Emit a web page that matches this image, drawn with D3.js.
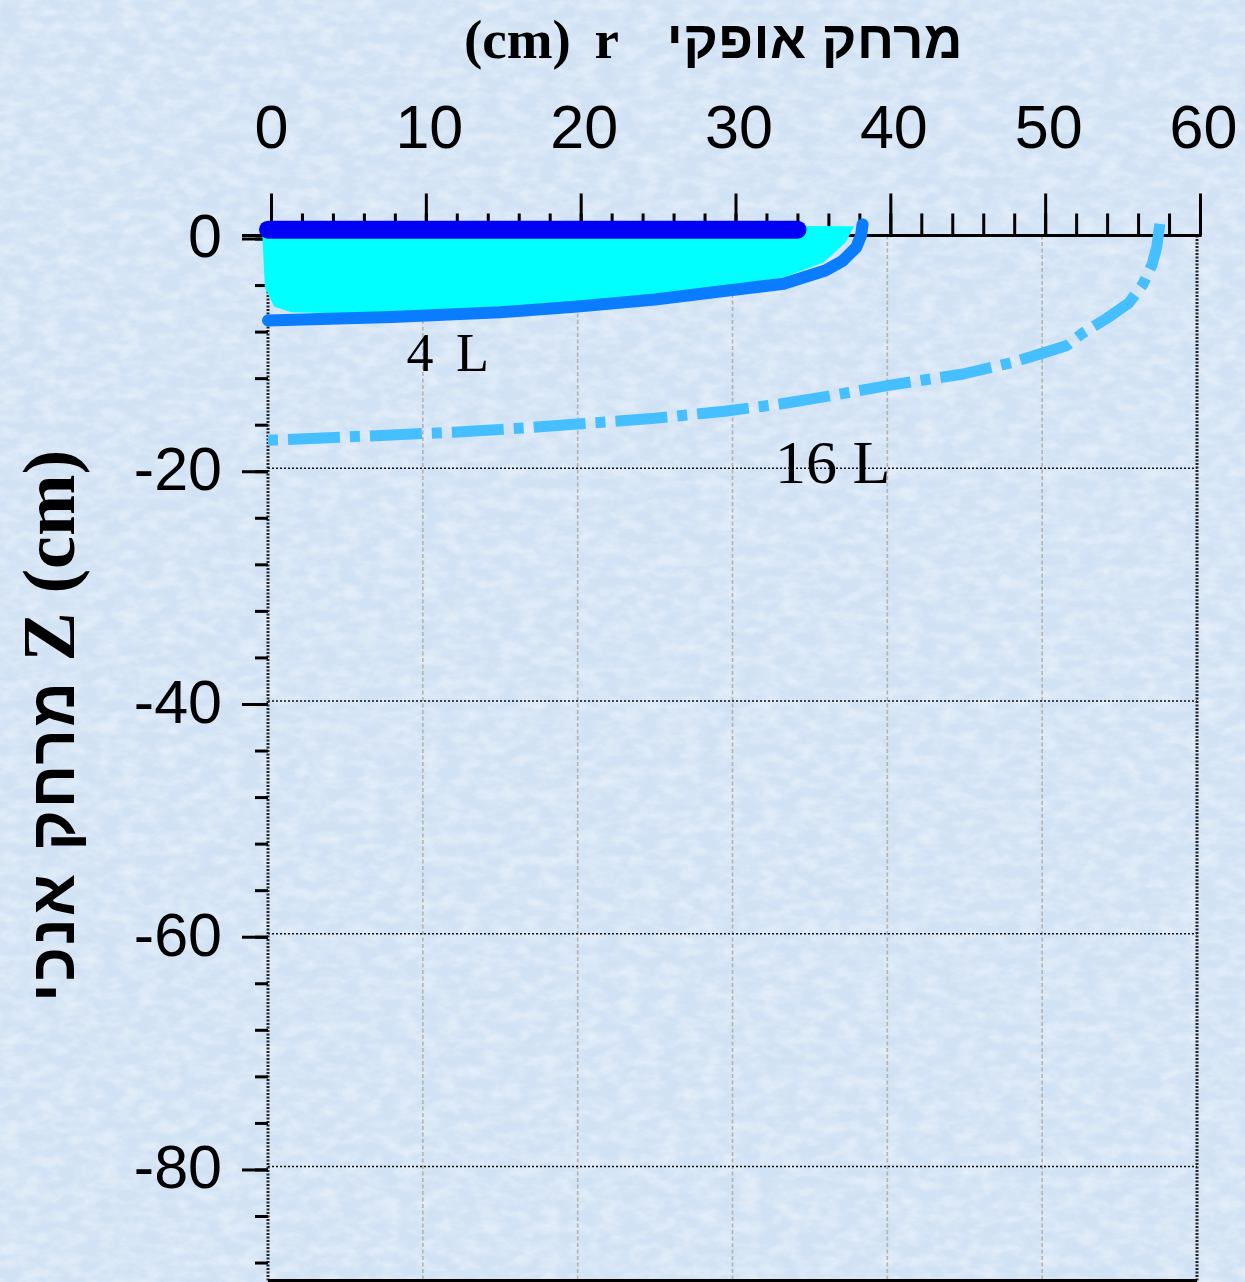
<!DOCTYPE html>
<html>
<head>
<meta charset="utf-8">
<script src="https://cdn.jsdelivr.net/npm/d3@7"></script>
<style>
  html, body { margin: 0; padding: 0; background: #d3e3f4; }
  svg { display: block; }
</style>
</head>
<body>
<svg id="chart" width="1245" height="1282"></svg>
<script>
// ---------------- data ----------------
const xTickValues = [0, 10, 20, 30, 40, 50, 60];
const yTickValues = [0, -20, -40, -60, -80];
const xTitle = ["(cm) r", " ", "מרחק אופקי"];
const yTitle = ["מרחק אנכי", " Z (cm)"];
const seriesLabels = ["4 L", "16 L"];

// surface ring (thick dark blue bar at the top)
const surfaceR = [0, 34.2];
const surfaceZ = [0.5, 0.5];

// wetted region (cyan)
const wetR = [-0.4, 37.85, 37.3, 35.9, 33.3, 28, 21, 15, 8, 1.5, 0.4, -0.2, -0.4];
const wetZ = [1.0, 0.8, -0.6, -2.3, -3.6, -4.6, -6.0, -6.8, -6.8, -6.6, -6.1, -4.5, 1.0];

// 4 L wetting front
const front4R = [0, 8, 15, 20, 25, 28, 33.3, 36.0, 37.1, 38.0, 38.3, 38.4];
const front4Z = [-7.3, -7.0, -6.6, -6.1, -5.5, -5.0, -4.15, -3.0, -2.2, -1.0, 0.0, 0.95];

// 16 L wetting front
const front16R = [0, 7, 12, 17, 20, 25, 29.5, 33, 36.2, 40, 44.9, 48.1, 50.3, 51.6, 52.6, 54.2, 55.6, 56.5, 57.1, 57.4, 57.6];
const front16Z = [-17.6, -17.2, -16.9, -16.5, -16.2, -15.7, -15.1, -14.5, -13.8, -12.9, -11.9, -10.9, -10.0, -9.45, -8.4, -7.1, -5.8, -4.2, -2.5, -1.0, 1.0];

// ---------------- layout ----------------
const W = 1245, H = 1282;
const svg = d3.select("#chart");
const x = d3.scaleLinear().domain([0, 60]).range([268, 1197]);
const y = d3.scaleLinear().domain([-89.8, 0]).range([1280.5, 235.5]);

const defs = svg.append("defs");
const f = defs.append("filter").attr("id", "paper").attr("x", 0).attr("y", 0).attr("width", 1).attr("height", 1);
f.append("feTurbulence").attr("type", "fractalNoise").attr("baseFrequency", "0.05 0.09")
  .attr("numOctaves", 3).attr("seed", 11);
f.append("feColorMatrix").attr("type", "matrix")
  .attr("values", "0 0 0 0 1  0 0 0 0 1  0 0 0 0 1  0 0 0 1.3 -0.45");

svg.append("rect").attr("width", W).attr("height", H).attr("fill", "#d1e2f4");
svg.append("rect").attr("width", W).attr("height", H).attr("filter", "url(#paper)").attr("opacity", 0.6);

// ---------------- grid ----------------
const grid = svg.append("g");
grid.selectAll("line.vg").data(xTickValues.filter(d => d > 0 && d < 60)).join("line")
  .attr("x1", d => x(d)).attr("x2", d => x(d))
  .attr("y1", y(0)).attr("y2", y(-89.8))
  .attr("stroke", "#b3b3b3").attr("stroke-width", 1.6).attr("stroke-dasharray", "4,2.5");
grid.selectAll("line.hg").data(yTickValues.filter(d => d < 0)).join("line")
  .attr("x1", x(0)).attr("x2", x(60))
  .attr("y1", d => y(d)).attr("y2", d => y(d))
  .attr("stroke", "#111").attr("stroke-width", 1.6).attr("stroke-dasharray", "2,2");
grid.selectAll("line.vb").data([0, 60]).join("line")
  .attr("x1", d => x(d)).attr("x2", d => x(d))
  .attr("y1", y(0)).attr("y2", y(-89.8))
  .attr("stroke", "#222").attr("stroke-width", 3).attr("stroke-dasharray", "2,1.5");
grid.append("line").attr("x1", x(0)).attr("x2", x(60))
  .attr("y1", y(-89.8)).attr("y2", y(-89.8)).attr("stroke", "#000").attr("stroke-width", 3);

// ---------------- axes ----------------
const tickFont = "'Liberation Sans', Arial, sans-serif";
const xMinor = d3.axisTop(x).tickValues(d3.range(0, 61, 2)).tickSize(22).tickFormat("");
const xMajor = d3.axisTop(x).tickValues(xTickValues).tickSize(42).tickPadding(46).tickFormat(d3.format("d"));
const gxm = svg.append("g").attr("transform", "translate(3,235.5)").call(xMinor);
const gxM = svg.append("g").attr("transform", "translate(3,235.5)").call(xMajor);
[gxm, gxM].forEach(g => {
  g.select(".domain").remove();
  g.selectAll(".tick line").attr("stroke", "#000").attr("stroke-width", 3);
});
gxM.selectAll(".tick text").attr("fill", "#000").style("font-family", tickFont).style("font-size", "61px")
  .attr("dx", d => d === 0 ? 0 : 3);

const yMinor = d3.axisLeft(y).tickValues(d3.range(0, -90, -4)).tickSize(13).tickFormat("");
const yMajor = d3.axisLeft(y).tickValues(yTickValues).tickSize(26).tickPadding(20).tickFormat(d3.format("d"));
const gym = svg.append("g").attr("transform", "translate(268,3)").call(yMinor);
const gyM = svg.append("g").attr("transform", "translate(268,3)").call(yMajor);
[gym, gyM].forEach(g => {
  g.select(".domain").remove();
  g.selectAll(".tick line").attr("stroke", "#000").attr("stroke-width", 3);
});
gyM.selectAll(".tick text").attr("fill", "#000").style("font-family", tickFont).style("font-size", "61px")
  .attr("dy", "0.30em").text(d => d === 0 ? "0" : "-" + Math.abs(d));

svg.append("line").attr("x1", 242).attr("x2", x(60) + 4.5)
  .attr("y1", y(0)).attr("y2", y(0)).attr("stroke", "#000").attr("stroke-width", 3);

// ---------------- series ----------------
const pts = (R, Z) => R.map((r, i) => [r, Z[i]]);
const line = d3.line().x(d => x(d[0])).y(d => y(d[1])).curve(d3.curveLinear);

svg.append("path").attr("d", line(pts(wetR, wetZ)) + "Z")
  .attr("fill", "#00ffff").attr("stroke", "none");

svg.append("path").attr("d", line(pts(front4R, front4Z)))
  .attr("fill", "none").attr("stroke", "#0a7cff").attr("stroke-width", 12)
  .attr("stroke-linecap", "round").attr("stroke-linejoin", "round");

svg.append("path").attr("d", line(pts(surfaceR, surfaceZ)))
  .attr("fill", "none").attr("stroke", "#0000f5").attr("stroke-width", 18)
  .attr("stroke-linecap", "round");

svg.append("path").attr("d", line(pts(front16R, front16Z)))
  .attr("fill", "none").attr("stroke", "#45bfff").attr("stroke-width", 11)
  .attr("stroke-dasharray", "52,10,10,10").attr("stroke-dashoffset", 62)
  .attr("stroke-linecap", "butt").attr("stroke-linejoin", "round");

// ---------------- annotations ----------------
const serif = "'Liberation Serif', 'Times New Roman', serif";
svg.append("text").attr("x", x(8.95)).attr("y", y(-11.65))
  .style("font-family", serif).style("font-size", "54px").style("word-spacing", "9px")
  .attr("fill", "#000").text(seriesLabels[0]);
svg.append("text").attr("x", x(32.75)).attr("y", y(-21.3))
  .style("font-family", serif).style("font-size", "62px")
  .attr("fill", "#000").text(seriesLabels[1]);

// ---------------- titles ----------------
const sansB = "'Liberation Sans', Arial, sans-serif";
const tx = svg.append("text").attr("x", 464).attr("y", 58).attr("direction", "ltr")
  .style("font-weight", "bold").attr("fill", "#000");
tx.append("tspan").style("font-family", serif).style("font-size", "55px").style("word-spacing", "10px").text(xTitle[0]);
tx.append("tspan").style("font-family", serif).style("font-size", "55px").style("word-spacing", "34px").text(xTitle[1]);
tx.append("tspan").style("font-family", sansB).style("font-size", "53px").style("letter-spacing", "0.5px").text(xTitle[2]);

const ty = svg.append("text").attr("transform", "translate(74,1002) rotate(-90)")
  .attr("x", 0).attr("y", 0).attr("direction", "ltr")
  .style("font-weight", "bold").attr("fill", "#000");
ty.append("tspan").style("font-family", sansB).style("font-size", "62px")
  .style("letter-spacing", "2px").style("word-spacing", "2px").text(yTitle[0]);
ty.append("tspan").style("font-family", serif).style("font-size", "74px").text(yTitle[1]);
</script>
</body>
</html>
